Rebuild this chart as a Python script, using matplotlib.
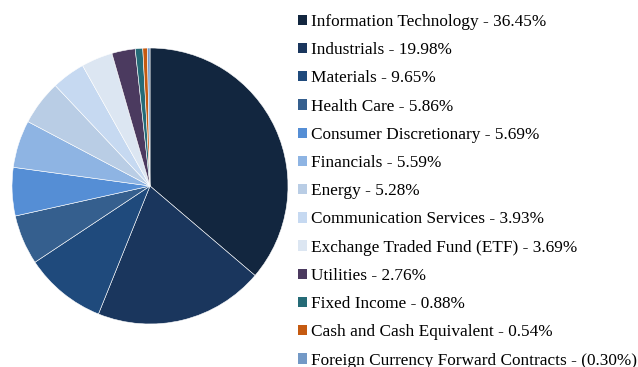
import matplotlib
matplotlib.use("Agg")
import matplotlib.pyplot as plt
from matplotlib.patches import Patch

# sector allocation
sectors = [
    "Information Technology", "Industrials", "Materials", "Health Care",
    "Consumer Discretionary", "Financials", "Energy", "Communication Services",
    "Exchange Traded Fund (ETF)", "Utilities", "Fixed Income",
    "Cash and Cash Equivalent", "Foreign Currency Forward Contracts",
]
weights = [36.45, 19.98, 9.65, 5.86, 5.69, 5.59, 5.28, 3.93, 3.69, 2.76, 0.88, 0.54, -0.30]
colors = [
    "#12263f", "#1a365d", "#1f4a7c", "#355f8e", "#558ed5", "#8eb4e3",
    "#b9cde5", "#c6d9f1", "#dce6f2", "#4b3a5f", "#256b77", "#c55a11", "#7399c6",
]

def fmt(v):
    return f"({abs(v):.2f}%)" if v < 0 else f"{v:.2f}%"

labels = [f"{s} - {fmt(w)}" for s, w in zip(sectors, weights)]

W, H = 638, 367
fig = plt.figure(figsize=(W / 100, H / 100), dpi=100)

ax = fig.add_axes([12 / W, 43 / H, 276 / W, 276 / H])
ax.pie([abs(w) for w in weights], colors=colors, startangle=90, counterclock=False,
       radius=1.0, wedgeprops=dict(edgecolor="white", linewidth=0.4))
ax.set_xlim(-1.0, 1.0)
ax.set_ylim(-1.0, 1.0)
ax.set_aspect("equal")
ax.axis("off")

handles = [Patch(facecolor=c, edgecolor="none") for c in colors]
fig.legend(handles, labels, loc="upper left", bbox_to_anchor=(291 / W, 1.0 - 7 / H),
           frameon=False, handlelength=0.55, handleheight=0.55, handletextpad=0.2,
           labelspacing=0.71, borderaxespad=0,
           prop=dict(family="Liberation Serif", size=12.4))

fig.savefig("out.png", dpi=100)
